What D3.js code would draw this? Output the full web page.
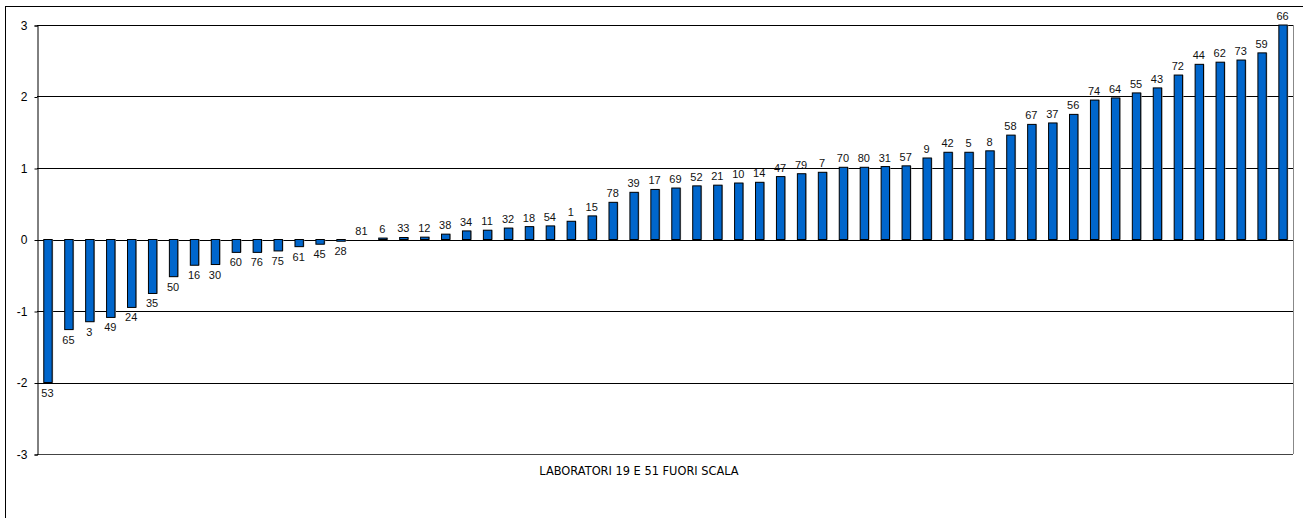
<!DOCTYPE html>
<html>
<head>
<meta charset="utf-8">
<script src="https://cdn.jsdelivr.net/npm/d3@7"></script>
<style>
  body { margin: 0; background: #fff; }
  svg { display: block; font-family: "Liberation Sans", Arial, sans-serif; }
</style>
</head>
<body>
<svg width="1303" height="518"></svg>
<script>
// laboratory codes, in plotted order
var labs = ["53","65","3","49","24","35","50","16","30","60","76","75","61","45","28",
  "81","6","33","12","38","34","11","32","18","54","1","15","78","39","17","69","52",
  "21","10","14","47","79","7","70","80","31","57","9","42","5","8","58","67","37",
  "56","74","64","55","43","72","44","62","73","59","66"];
// z-score per laboratory
var scores = [-2.0,-1.26,-1.15,-1.09,-0.95,-0.755,-0.52,-0.36,-0.35,-0.18,-0.18,-0.16,-0.10,-0.066,-0.024,
  0.0,0.02,0.028,0.033,0.075,0.12,0.13,0.16,0.18,0.19,0.255,0.33,0.52,0.66,0.70,0.72,0.75,
  0.76,0.79,0.80,0.88,0.92,0.94,1.01,1.01,1.02,1.03,1.14,1.22,1.22,1.24,1.46,1.61,1.63,
  1.75,1.95,1.98,2.05,2.12,2.30,2.45,2.48,2.51,2.61,3.0];
var yTicks = [-3,-2,-1,0,1,2,3];
var note = "LABORATORI 19 E 51 FUORI SCALA";

var data = labs.map(function(l,i){ return {lab:l, v:scores[i]}; });

var svg = d3.select("svg");
var margin = {top: 25, left: 37, right: 10, bottom: 64};
var W = 1293, H = 454;

// outer frame
svg.append("rect")
  .attr("x",5.5).attr("y",6.5)
  .attr("width",1310).attr("height",520)
  .attr("fill","none").attr("stroke","#000").attr("stroke-width",1);

var x = d3.scaleBand().domain(labs).range([margin.left, W]).paddingInner(0.6).paddingOuter(0.3);
var y = d3.scaleLinear().domain([-3,3]).range([H, margin.top]);

// plot right border
svg.append("line")
  .attr("x1",W+0.5).attr("x2",W+0.5).attr("y1",y(3)).attr("y2",y(-3))
  .attr("stroke","#888");

// gridlines
svg.append("g").selectAll("line").data(yTicks).enter().append("line")
  .attr("x1",margin.left).attr("x2",W)
  .attr("y1",function(d){ return Math.round(y(d))+0.5; })
  .attr("y2",function(d){ return Math.round(y(d))+0.5; })
  .attr("stroke",function(d){ return d==-3 ? "#444" : "#000"; })
  .attr("stroke-width",1);

// y axis
var yAxis = d3.axisLeft(y).tickValues(yTicks).tickSize(3).tickPadding(7)
  .tickFormat(function(d){ return String(d); });
var ga = svg.append("g").attr("transform","translate("+(margin.left+0.5)+",0.5)").call(yAxis);
ga.select(".domain").attr("stroke","#000");
ga.selectAll(".tick line").attr("stroke","#000");
ga.selectAll("text").attr("font-size",12).attr("fill","#000")
  .attr("font-family","Liberation Sans, Arial, sans-serif");

// bars
var bars = svg.append("g");
bars.selectAll("rect.shadow").data(data).enter().append("rect")
  .attr("class","shadow")
  .attr("x",function(d){ return x(d.lab)+1.5; })
  .attr("y",function(d){ return Math.min(y(d.v),y(0)); })
  .attr("width",x.bandwidth())
  .attr("height",function(d){ return Math.abs(y(d.v)-y(0)); })
  .attr("fill","#aaa");
bars.selectAll("rect.bar").data(data).enter().append("rect")
  .attr("class","bar")
  .attr("x",function(d){ return x(d.lab)+0.5; })
  .attr("y",function(d){ return Math.min(y(d.v),y(0)); })
  .attr("width",x.bandwidth())
  .attr("height",function(d){ return Math.abs(y(d.v)-y(0)); })
  .attr("fill","#0066cc")
  .attr("stroke","#000")
  .attr("stroke-width",1);

// labels
svg.append("g").selectAll("text").data(data).enter().append("text")
  .attr("x",function(d){ return x(d.lab)+x.bandwidth()/2; })
  .attr("y",function(d){ return d.v>=0 ? y(d.v)-5 : y(d.v)+14; })
  .attr("text-anchor","middle")
  .attr("font-size",11)
  .attr("fill","#111")
  .text(function(d){ return d.lab; });

// note
svg.append("text")
  .attr("x",639).attr("y",475)
  .attr("text-anchor","middle")
  .attr("font-family","DejaVu Sans, Verdana, sans-serif")
  .attr("font-size",11.4)
  .attr("fill","#000")
  .text(note);
</script>
</body>
</html>
